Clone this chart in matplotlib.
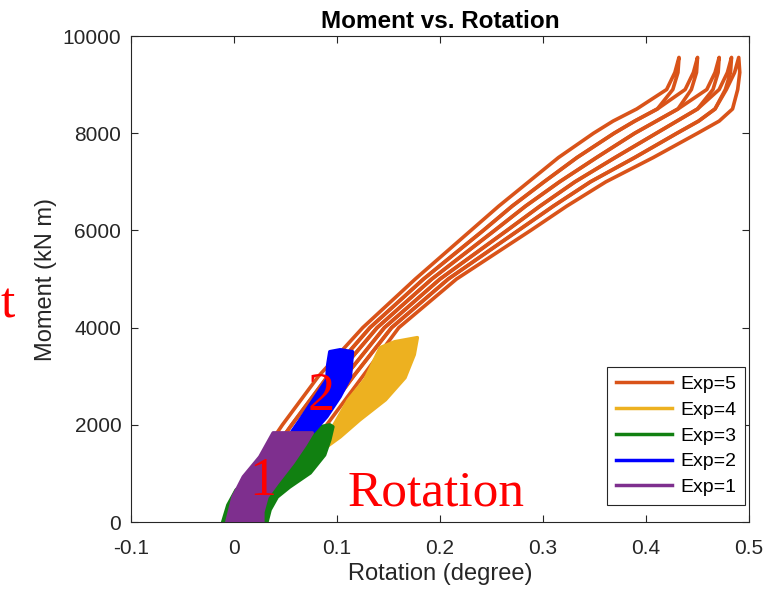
import matplotlib.pyplot as plt
from matplotlib.lines import Line2D

plt.rcParams['font.family'] = ['Liberation Sans', 'DejaVu Sans']
plt.rcParams['axes.unicode_minus'] = False

# Exp=5: six bands of the ratcheting loops, rotation read at each moment level
levels = [1000, 2000, 3000, 4000, 5000, 6000, 6500, 7000, 7500, 8000, 8250, 8500]
band_rot = [
    [0.015, 0.047, 0.082, 0.125, 0.176, 0.230, 0.257, 0.286, 0.315, 0.349, 0.368, 0.391],
    [0.022, 0.056, 0.091, 0.132, 0.184, 0.242, 0.270, 0.301, 0.333, 0.369, 0.389, 0.411],
    [0.029, 0.064, 0.099, 0.139, 0.192, 0.253, 0.283, 0.316, 0.352, 0.389, 0.410, 0.431],
    [0.036, 0.073, 0.108, 0.146, 0.200, 0.265, 0.297, 0.331, 0.370, 0.410, 0.430, 0.450],
    [0.043, 0.081, 0.116, 0.153, 0.208, 0.276, 0.310, 0.346, 0.389, 0.430, 0.451, 0.467],
    [0.050, 0.090, 0.125, 0.160, 0.216, 0.288, 0.323, 0.361, 0.407, 0.450, 0.471, 0.484],
]
up_top_mom = [8900, 9250, 9560]
up_top_rot = [
    [0.420, 0.428, 0.432],
    [0.438, 0.446, 0.450],
    [0.459, 0.467, 0.471],
    [0.471, 0.479, 0.483],
    [0.478, 0.486, 0.490],
]
down_top_mom = [9250, 8900]
down_top_rot = [
    [0.431, 0.426],
    [0.449, 0.444],
    [0.470, 0.465],
    [0.482, 0.477],
    [0.491, 0.489],
]

# Exp=4 outline
exp4_rot = [0.085, 0.096, 0.111, 0.127, 0.142, 0.156, 0.178, 0.175, 0.166, 0.147, 0.122, 0.103, 0.090]
exp4_mom = [1700, 1960, 2515, 2930, 3590, 3710, 3795, 3445, 2970, 2515, 2100, 1750, 1550]

# Exp=3 outline
exp3_rot = [-0.011, -0.006, 0.002, 0.020, 0.045, 0.064, 0.079, 0.093, 0.096, 0.093, 0.088, 0.074, 0.054, 0.042, 0.035, 0.032]
exp3_mom = [0, 350, 660, 970, 1380, 1690, 1940, 2000, 1960, 1690, 1380, 1010, 720, 515, 250, 0]

# Exp=2 outline
exp2_rot = [0.054, 0.064, 0.077, 0.090, 0.091, 0.093, 0.103, 0.115, 0.114, 0.113, 0.103, 0.090, 0.077, 0.064]
exp2_mom = [1795, 2100, 2515, 2930, 3240, 3505, 3545, 3505, 3240, 2990, 2580, 2165, 1855, 1690]

# Exp=1 outline
exp1_rot = [-0.007, -0.001, 0.009, 0.025, 0.038, 0.076, 0.069, 0.057, 0.042, 0.032, 0.028, 0.028]
exp1_mom = [0, 515, 930, 1340, 1835, 1835, 1590, 1215, 805, 515, 205, 0]

colors = {5: '#D95319', 4: '#EDB120', 3: '#118011', 2: '#0000FF', 1: '#7E2F8E'}

fig = plt.figure(figsize=(7.68, 5.92), dpi=100)
ax = fig.add_axes([0.1706, 0.1182, 0.8047, 0.8209])

# orange loops: up along band k, over the tip, down along band k+1
for k in range(5):
    rot = band_rot[k] + up_top_rot[k] + down_top_rot[k] + band_rot[k + 1][::-1]
    mom = levels + up_top_mom + down_top_mom + levels[::-1]
    ax.plot(rot, mom, color=colors[5], lw=2.6, solid_joinstyle='round', zorder=2)

ax.fill(exp4_rot, exp4_mom, color=colors[4], lw=2.5, joinstyle='round', zorder=3)
ax.fill(exp3_rot, exp3_mom, color=colors[3], lw=2.5, joinstyle='round', zorder=3)
ax.fill(exp2_rot, exp2_mom, color=colors[2], lw=2.5, joinstyle='round', zorder=3)
ax.fill(exp1_rot, exp1_mom, color=colors[1], lw=2.5, joinstyle='round', zorder=3)

ax.set_xlim(-0.1, 0.5)
ax.set_ylim(0, 10000)
ax.set_xticks([-0.1, 0, 0.1, 0.2, 0.3, 0.4, 0.5])
ax.set_xticklabels(['-0.1', '0', '0.1', '0.2', '0.3', '0.4', '0.5'])
ax.set_yticks([0, 2000, 4000, 6000, 8000, 10000])
ax.tick_params(direction='in', top=True, right=True, length=5, width=0.8,
               colors='#262626', labelsize=15)
ax.tick_params(axis='x', pad=12)
ax.tick_params(axis='y', pad=7)
for s in ax.spines.values():
    s.set_color('#262626')
    s.set_linewidth(0.8)

ax.set_title('Moment vs. Rotation', fontsize=17.5, fontweight='bold', pad=6)
ax.set_xlabel('Rotation (degree)', fontsize=17, color='#262626', labelpad=4)
ax.set_ylabel('Moment (kN m)', fontsize=17, color='#262626', labelpad=4)

handles = [Line2D([], [], color=colors[i], lw=2.5) for i in [5, 4, 3, 2, 1]]
leg = ax.legend(handles, ['Exp=5', 'Exp=4', 'Exp=3', 'Exp=2', 'Exp=1'],
                loc='lower right', bbox_to_anchor=(0.9935, 0.035),
                fontsize=14, fancybox=False, framealpha=1,
                edgecolor='#262626', handlelength=2.9, labelspacing=0.42,
                borderaxespad=0, handletextpad=0.4, borderpad=0.45)
leg.get_frame().set_linewidth(0.8)
leg.set_zorder(5)

# red overlay notes
red = dict(color='red', family=['Liberation Serif', 'DejaVu Serif'])
fig.text(0.5 / 768, 1 - 318 / 592, 't', fontsize=37, ha='left', **red)
ax.text(0.110, 330, 'Rotation', fontsize=37, zorder=6, **red)
ax.text(0.085, 2300, '2', fontsize=39, ha='center', zorder=6, **red)
ax.text(0.028, 550, '1', fontsize=39, ha='center', zorder=6, **red)

fig.savefig('out.png', dpi=100)
